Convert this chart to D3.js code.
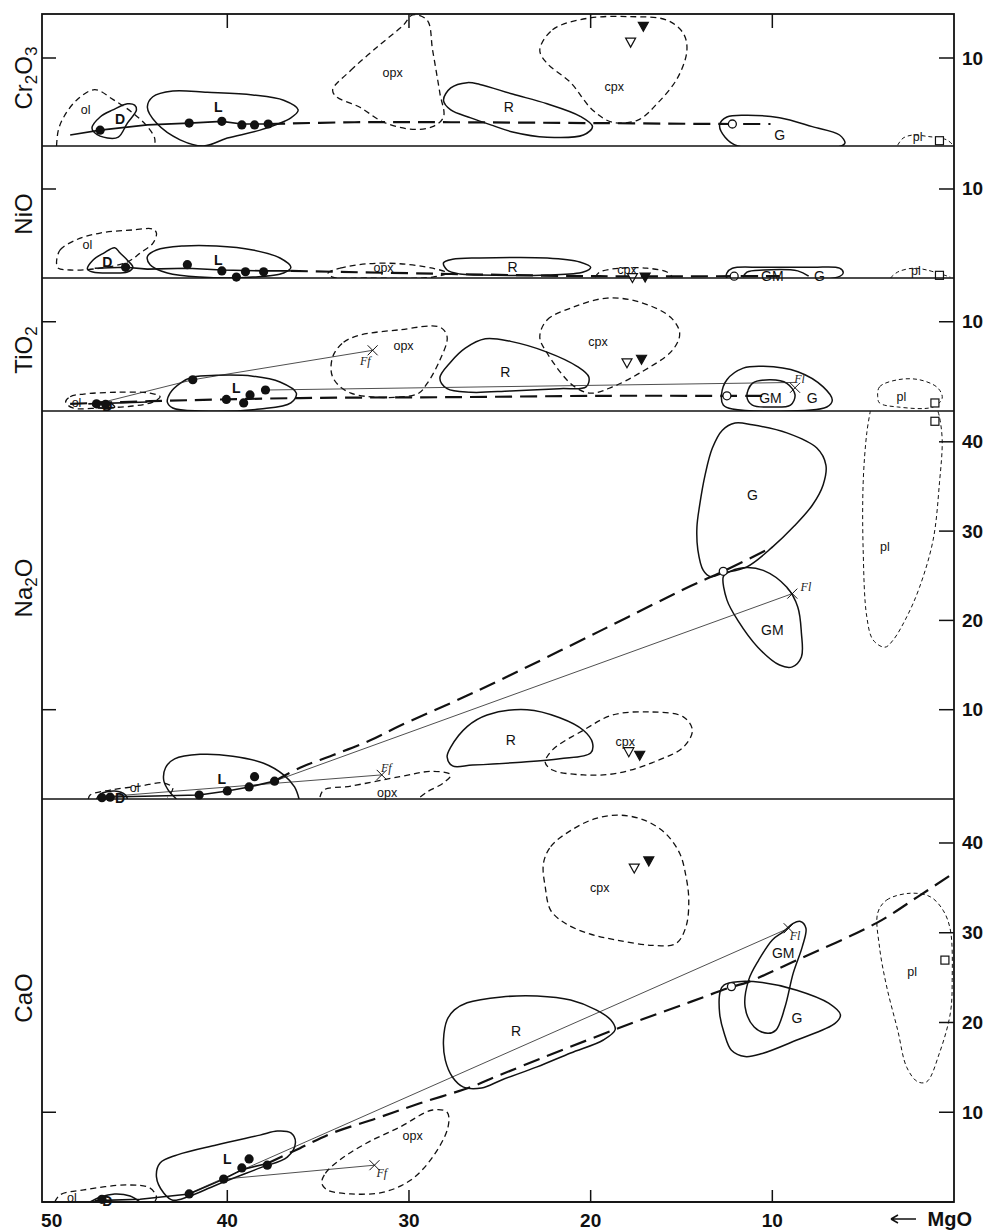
<!DOCTYPE html>
<html><head><meta charset="utf-8">
<script src="https://cdn.jsdelivr.net/npm/d3@7"></script>
<style>body{margin:0;background:#fff}svg{display:block}</style>
</head><body>
<svg id="c" width="994" height="1232"></svg>
<script>
// ---------- axis data ----------
const mgoTicks = [50, 40, 30, 20, 10];
const panelNames = ["Cr2O3", "NiO", "TiO2", "Na2O", "CaO"];
const panelMax = [15.0, 14.83, 14.9, 43.45, 44.9];
const rightTicks = [[10], [10], [10], [10, 20, 30, 40], [10, 20, 30, 40]];
const leftTicks = [[10], [10], [10], [10], [10]];

// ---------- Cr2O3 ----------
const crFields = [
  {n:"ol", open:true, lab:[47.8,4.1], pts:[[49.4,0],[49.3,1.8],[49.0,3.3],[48.3,5.2],[47.3,6.4],[46.3,5.3],[45.2,3.75],[44.4,2.2],[44.0,0.9],[44.0,0]]},
  {n:"D", lab:[45.9,3.1], pts:[[47.45,2.05],[47.0,3.3],[46.3,4.1],[45.5,4.8],[45.1,4.65],[45.0,4.1],[45.5,2.6],[46.0,1.0],[46.6,0.9],[47.3,1.5]]},
  {n:"L", lab:[40.5,4.4], pts:[[44.4,4.4],[44.1,5.6],[43.0,6.25],[41.1,6.1],[38.6,5.8],[36.9,5.2],[36.1,4.1],[36.5,3.2],[38.2,1.8],[40.0,0.9],[41.3,0.0],[42.6,0.7],[43.9,2.6]]},
  {n:"opx", lab:[30.9,8.3], pts:[[34.2,6.4],[33.2,8.6],[31.75,11.25],[30.3,13.75],[29.8,14.9],[29.0,14.3],[28.7,10.9],[28.3,6.0],[28.1,3.3],[28.7,2.2],[29.8,1.9],[31.4,2.7],[32.7,4.4],[34.0,5.6]]},
  {n:"R", lab:[24.5,4.4], pts:[[28.1,5.2],[27.7,6.6],[26.8,7.2],[26.1,7.0],[24.3,5.9],[22.4,4.8],[20.6,3.4],[19.9,2.2],[20.4,1.25],[22.4,1.0],[24.3,1.6],[25.5,2.4],[26.6,3.2],[27.7,4.1]]},
  {n:"cpx", lab:[18.7,6.7], pts:[[22.8,10.9],[22.1,13.2],[20.2,14.5],[17.8,14.7],[15.8,14.3],[14.9,12.8],[14.7,10.9],[15.2,7.8],[16.3,4.9],[17.4,2.95],[18.8,2.7],[19.9,4.1],[21.1,7.2],[22.4,9.4]]},
  {n:"G", lab:[9.6,1.25], pts:[[12.9,2.4],[12.5,3.3],[11.4,3.5],[9.6,3.2],[7.8,2.2],[6.3,1.25],[6.0,0.35],[6.2,0],[11.9,0],[12.6,1.0]]},
  {n:"pl", open:true, lab:[2.0,1.0], pts:[[3.1,0.1],[2.8,0.9],[2.25,1.25],[1.5,1.1],[0.4,0.7],[0.05,0.1]]}
];
const crMarks = [["dot",47.0,1.8],["dot",42.1,2.6],["dot",40.3,2.8],["dot",39.2,2.4],["dot",38.5,2.4],["dot",37.75,2.5],
  ["circle",12.2,2.5],["triOpen",17.8,11.8],["triFilled",17.1,13.6],["square",0.8,0.6]];
const crSeq = [[48.65,1.25],[47.0,1.8],[44.4,2.4],[42.1,2.6],[40.3,2.8],[39.2,2.5],[37.75,2.5]];
const crTrend = [[37.75,2.5],[33,2.7],[27.7,2.7],[19.5,2.6],[12.2,2.5],[10.1,2.5]];
const crThin = [];
const crNotes = [];

// ---------- NiO ----------
const niFields = [
  {n:"ol", lab:[47.7,3.7], pts:[[49.4,1.7],[49.2,3.15],[48.3,4.3],[47.0,5.05],[45.2,5.4],[44.1,5.5],[43.9,5.05],[44.1,3.9],[44.8,2.8],[45.5,1.8],[47.0,1.1],[48.65,0.9],[49.3,1.1]]},
  {n:"D", lab:[46.6,1.8], pts:[[47.7,1.0],[47.4,2.0],[46.8,2.8],[46.2,3.4],[45.9,2.8],[45.5,2.0],[45.2,1.2],[45.5,0.67],[46.45,0.56],[47.4,0.67]]},
  {n:"L", lab:[40.5,2.0], pts:[[44.4,2.4],[43.9,3.15],[42.4,3.6],[40.6,3.6],[38.6,3.15],[37.1,2.25],[36.5,1.2],[36.9,0.56],[38.6,0.1],[41.5,0.1],[43.3,0.56],[44.25,1.5]]},
  {n:"opx", lab:[31.4,1.1], pts:[[34.45,0.56],[33.8,1.1],[32.3,1.6],[30.5,1.6],[28.7,1.1],[27.9,0.56],[28.7,0.1],[32.3,0],[34.2,0.1]]},
  {n:"R", lab:[24.3,1.2], pts:[[28.1,1.7],[27.6,2.1],[26.1,2.25],[22.4,2.25],[20.6,1.8],[20.0,1.2],[20.4,0.67],[22.4,0.34],[26.1,0.34],[27.2,0.45],[27.9,0.9]]},
  {n:"cpx", open:true, lab:[18.0,0.9], pts:[[19.75,0.1],[19.5,0.67],[18.4,1.1],[16.9,1.1],[15.8,0.67],[15.5,0.1]]},
  {n:"G", lab:[7.4,0.25], pts:[[12.5,0.56],[12.2,1.1],[10.5,1.2],[7.8,1.2],[6.3,1.1],[6.1,0.56],[6.4,0.1],[12.5,0]]},
  {n:"GM", open:true, lab:[10.0,0.25], pts:[[11.6,0.1],[11.4,0.67],[10.5,0.9],[8.6,0.8],[8.0,0.2]]},
  {n:"pl", open:true, lab:[2.1,0.8], pts:[[3.5,0],[3.1,0.67],[2.25,1.1],[1.5,0.9],[0.2,0.1]]}
];
const niMarks = [["dot",45.6,1.2],["dot",42.2,1.5],["dot",40.3,0.8],["dot",39.5,0.1],["dot",39.0,0.7],["dot",38.0,0.7],
  ["circle",12.1,0.2],["triOpen",17.7,0.05],["triFilled",17.0,0.1],["square",0.8,0.3]];
const niSeq = [[47.3,1.1],[45.6,1.2],[44.4,1.0],[42.2,1.1],[40.3,0.9],[38.0,0.8],[36.5,0.8]];
const niTrend = [[36.5,0.8],[27.7,0.45],[19.5,0.2],[12.1,0.2],[9.6,0.2]];
const niThin = [];
const niNotes = [];

// ---------- TiO2 ----------
const tiFields = [
  {n:"ol", lab:[48.3,0.9], pts:[[48.9,1.0],[48.65,1.6],[47.9,1.9],[46.1,2.1],[44.25,2.0],[43.7,1.6],[44.1,1.0],[45.2,0.56],[47.0,0.34],[48.5,0.34]]},
  {n:"D", lab:[46.6,0.55], pts:[[47.4,0.67],[47.0,1.0],[46.45,0.9],[46.2,0.45],[47.0,0.34]]},
  {n:"L", lab:[39.5,2.6], pts:[[43.3,1.0],[43.15,2.0],[42.6,3.1],[41.9,3.8],[40.6,4.0],[38.6,3.9],[37.1,3.25],[36.2,2.0],[36.5,0.9],[38.2,0.22],[41.5,0],[43.0,0.34]]},
  {n:"opx", lab:[30.3,7.3], pts:[[34.2,6.05],[33.6,7.7],[32.7,8.5],[30.5,9.1],[28.3,9.4],[27.9,8.3],[28.3,5.7],[29.0,3.1],[29.55,1.9],[33.2,2.0],[34.2,3.8]]},
  {n:"R", lab:[24.7,4.35], pts:[[28.3,3.7],[27.7,5.5],[26.9,7.05],[25.8,8.1],[24.4,7.8],[22.4,6.6],[20.75,5.0],[20.1,3.8],[20.25,2.7],[21.7,2.5],[24.4,2.25],[26.6,2.1],[27.9,2.5]]},
  {n:"cpx", lab:[19.6,7.7], pts:[[22.8,8.3],[22.4,10.2],[21.0,11.6],[19.1,12.65],[17.3,12.2],[15.6,10.5],[15.1,8.7],[15.5,6.8],[17.3,4.25],[18.8,2.7],[20.0,2.0],[21.0,2.9],[22.4,6.5]]},
  {n:"G", lab:[7.8,1.45], pts:[[12.8,1.8],[12.5,3.5],[11.6,4.8],[10.5,5.0],[8.6,4.4],[7.2,2.7],[6.7,1.2],[7.0,0.45],[12.2,0.22],[12.7,0.67]]},
  {n:"GM", lab:[10.1,1.45], pts:[[11.4,1.6],[11.1,3.1],[10.1,3.5],[9.2,3.1],[8.75,1.8],[9.0,0.67],[10.1,0.45],[11.1,0.67]]},
  {n:"pl", lab:[2.9,1.6], pts:[[4.2,1.6],[4.1,2.7],[3.1,3.5],[1.9,3.5],[0.9,2.6],[0.65,1.45],[1.15,0.45],[3.1,0.45],[4.1,0.9]]}
];
const tiMarks = [["dot",47.2,0.8],["dot",46.7,0.75],["dot",41.9,3.5],["dot",40.05,1.3],["dot",39.1,0.9],["dot",38.75,1.8],["dot",37.9,2.35],
  ["circle",12.5,1.7],["triOpen",18.0,5.4],["triFilled",17.2,5.8],["square",1.05,0.9],["cross",32.0,6.8],["cross",8.75,2.6]];
const tiSeq = [[47.65,0.8],[44.4,1.0]];
const tiTrend = [[48.65,0.8],[44.25,1.1],[36.0,1.45],[27.7,1.55],[19.5,1.7],[12.5,1.7],[10.1,1.7]];
const tiThin = [[[47.2,0.8],[41.9,3.5],[32.0,6.8]], [[37.9,2.35],[8.75,3.2]]];
const tiNotes = [["Ff",32.4,5.6],["Fl",8.5,3.6]];

// ---------- Na2O ----------
const naFields = [
  {n:"ol", open:true, lab:[45.1,1.2], pts:[[47.65,0],[47.55,0.45],[46.45,1.0],[44.8,1.45],[43.5,1.8],[43.0,1.2],[43.3,0.2]]},
  {n:"D", open:true, lab:[45.9,0.15], pts:[[47.2,0],[47.0,0.55],[46.2,0.9],[45.6,0.45],[45.5,0]]},
  {n:"L", open:true, lab:[40.3,2.25], pts:[[42.8,0],[43.25,1.0],[43.5,2.1],[43.4,3.5],[42.9,4.5],[41.5,5.0],[39.7,4.8],[38.0,4.0],[36.9,2.7],[36.3,1.35],[36.05,0]]},
  {n:"opx", open:true, lab:[31.2,0.7], pts:[[34.9,0.2],[34.7,1.0],[33.2,1.45],[30.5,2.5],[28.7,3.1],[27.7,2.7],[28.1,1.8],[29.0,0.8],[29.4,0.2]]},
  {n:"R", lab:[24.4,6.6], pts:[[27.9,4.7],[27.7,5.8],[26.8,8.1],[25.7,9.4],[23.5,10.0],[21.7,9.1],[20.4,7.7],[19.9,6.3],[20.0,5.15],[21.7,4.5],[24.05,4.1],[26.5,3.8],[27.6,3.7]]},
  {n:"cpx", lab:[18.1,6.4], pts:[[22.5,4.1],[22.1,5.5],[20.4,7.7],[18.8,9.4],[16.7,9.75],[14.9,9.2],[14.4,7.7],[14.9,5.8],[16.2,4.4],[18.5,2.9],[20.4,2.7],[22.1,3.25]]},
  {n:"G", lab:[11.1,34.0], pts:[[14.15,30.45],[14.0,32.9],[13.7,36.3],[13.3,39.3],[12.75,41.3],[12.05,42.1],[11.1,41.9],[9.2,41.0],[7.55,39.3],[7.05,37.4],[7.2,35.2],[7.8,32.9],[8.85,30.45],[10.0,28.2],[11.4,26.0],[12.7,25.3],[13.4,24.9],[13.8,25.6],[14.1,27.9]]},
  {n:"GM", lab:[10.0,18.9], pts:[[12.7,24.9],[12.5,22.3],[11.9,20.0],[10.8,17.0],[9.6,15.0],[8.9,14.8],[8.4,15.9],[8.4,18.6],[8.6,21.5],[9.2,23.7],[10.5,25.6],[11.6,25.9],[12.5,25.3]]},
  {n:"pl", open:true, lab:[3.8,28.2], pts:[[4.6,43.5],[4.8,41.0],[5.0,35.4],[5.0,27.9],[4.8,20.4],[4.45,17.8],[3.8,17.0],[3.35,17.8],[2.6,20.4],[1.9,23.7],[1.15,29.0],[0.8,35.4],[0.65,40.2],[0.8,42.8],[0.9,43.5]]}
];
const naMarks = [["dot",46.9,0.15],["dot",46.45,0.2],["dot",41.55,0.45],["dot",40.0,0.9],["dot",38.8,1.35],["dot",38.5,2.5],["dot",37.4,2.0],
  ["circle",12.7,25.5],["triOpen",17.9,5.3],["triFilled",17.3,4.9],["square",1.05,42.3],["cross",31.5,2.7],["cross",8.9,23.0]];
const naSeq = [[47.0,0.2],[41.55,0.45],[40.0,0.9],[38.8,1.35],[37.4,2.0]];
const naTrend = [[37.4,2.0],[36.0,3.5],[34.2,4.9],[32.1,6.6],[30.5,8.2],[27.7,10.75],[25.0,13.3],[19.5,18.8],[14.5,23.85],[12.7,25.5],[10.0,28.2]];
const naThin = [[[37.4,2.0],[8.9,23.0]], [[46.45,0.3],[31.5,2.7]]];
const naNotes = [["Ff",31.25,3.5],["Fl",8.15,23.7]];

// ---------- CaO ----------
const caFields = [
  {n:"ol", open:true, lab:[48.55,0.5], pts:[[49.5,0],[49.2,0.8],[47.9,1.35],[45.5,1.9],[44.25,1.55],[43.9,0.55],[44.0,0]]},
  {n:"D", open:true, lab:[46.6,0.1], pts:[[47.55,0],[47.0,0.55],[46.2,0.9],[45.35,0.67],[44.8,0]]},
  {n:"L", lab:[40.0,4.8], pts:[[43.9,2.8],[43.7,4.35],[42.75,5.25],[40.6,6.35],[38.2,7.45],[37.25,7.9],[36.5,7.7],[36.25,6.6],[36.7,5.0],[38.2,3.8],[40.6,1.9],[42.2,0.55],[43.0,0.2],[43.5,1.0]]},
  {n:"opx", lab:[29.8,7.35], pts:[[34.8,2.1],[34.6,3.2],[33.8,4.7],[32.3,6.6],[30.5,8.35],[28.7,10.25],[27.9,10.0],[27.85,8.35],[28.7,5.0],[29.9,2.45],[31.4,1.1],[33.2,0.9],[34.5,1.35]]},
  {n:"R", lab:[24.1,19.0], pts:[[28.1,18.05],[27.9,20.3],[27.5,21.4],[26.8,22.2],[24.9,22.85],[22.95,22.95],[21.1,22.5],[19.7,21.4],[18.9,20.3],[18.65,19.2],[19.3,18.05],[21.1,16.6],[22.95,15.05],[24.9,13.6],[26.0,12.7],[27.0,12.8],[27.6,13.9],[28.0,15.8]]},
  {n:"cpx", lab:[19.5,35.0], pts:[[22.6,37.7],[22.2,39.6],[21.05,41.45],[19.7,42.75],[18.4,43.1],[17.05,42.55],[15.9,41.1],[15.1,38.85],[14.75,36.25],[14.6,33.65],[14.75,30.7],[15.3,28.8],[16.65,28.6],[18.6,29.2],[20.1,29.9],[21.4,31.05],[22.2,32.5],[22.5,35.1]]},
  {n:"G", lab:[8.65,20.5], pts:[[12.85,23.6],[12.65,24.2],[11.9,24.55],[10.55,24.45],[8.65,23.6],[6.9,22.15],[6.25,20.85],[6.55,19.9],[8.65,18.05],[10.55,16.55],[11.5,16.2],[12.25,16.9],[12.65,18.8],[12.9,21.0]]},
  {n:"GM", lab:[9.4,27.7], pts:[[9.4,30.1],[8.85,31.05],[8.45,31.25],[8.15,30.5],[8.35,28.45],[8.85,25.5],[9.3,21.75],[9.8,19.15],[10.25,18.8],[11.0,19.5],[11.5,21.75],[11.3,24.75],[10.75,26.95],[10.0,29.2]]},
  {n:"pl", lab:[2.3,25.6], pts:[[4.2,32.2],[3.7,33.65],[2.4,34.4],[1.3,34.0],[0.6,32.5],[0.2,30.3],[0.1,24.7],[0.2,21.05],[0.8,16.6],[1.5,13.4],[2.0,13.4],[2.6,15.0],[3.1,19.15],[3.7,23.95],[4.1,28.4]]}
];
const caMarks = [["dot",42.1,0.9],["dot",40.2,2.55],["dot",39.2,3.8],["dot",38.8,4.8],["dot",37.8,4.1],["dot",46.9,0.3],
  ["circle",12.25,24.0],["triOpen",17.6,37.2],["triFilled",16.8,38.0],["square",0.5,26.95],["cross",31.9,4.1],["cross",9.1,30.5]];
const caSeq = [[47.3,0.15],[44.8,0.3],[42.1,0.9],[40.2,2.55],[39.2,3.6],[37.8,4.3]];
const caTrend = [[37.8,4.3],[36.0,6.0],[34.2,7.7],[31.75,9.35],[29.4,11.0],[26.6,12.8],[25.0,14.15],[18.75,19.15],[14.5,22.3],[12.25,23.95],[11.35,24.5],[8.65,26.95],[4.25,31.1],[2.0,34.0],[0.2,36.4]];
const caThin = [[[42.05,1.0],[9.1,30.5]], [[40.2,2.55],[31.9,4.1]]];
const caNotes = [["Ff",31.5,3.2],["Fl",8.75,29.6]];

// ---------- build ----------
const panelData = [
  {fields:crFields, marks:crMarks, seq:crSeq, trend:crTrend, thin:crThin, notes:crNotes},
  {fields:niFields, marks:niMarks, seq:niSeq, trend:niTrend, thin:niThin, notes:niNotes},
  {fields:tiFields, marks:tiMarks, seq:tiSeq, trend:tiTrend, thin:tiThin, notes:tiNotes},
  {fields:naFields, marks:naMarks, seq:naSeq, trend:naTrend, thin:naThin, notes:naNotes},
  {fields:caFields, marks:caMarks, seq:caSeq, trend:caTrend, thin:caThin, notes:caNotes}
];
const dashedNames = ["ol", "opx", "cpx", "pl"];
const boldNames = ["L", "D"];

const X0 = 42, X1 = 954;
const tops = [14, 146, 278, 411, 799];
const bots = [146, 278, 411, 799, 1202];
const labelY = [78, 214, 350, 588, 998];
const FONT = "'Liberation Sans', Arial, Helvetica, sans-serif";

const svg = d3.select("#c");
svg.append("rect").attr("width", 994).attr("height", 1232).attr("fill", "#fff");
const x = d3.scaleLinear().domain([50.2, 0]).range([X0, X1]);
const defs = svg.append("defs");

panelData.forEach((P, i) => {
  const y = d3.scaleLinear().domain([0, panelMax[i]]).range([bots[i], tops[i]]);
  defs.append("clipPath").attr("id", "clip" + i).append("rect")
    .attr("x", X0).attr("y", tops[i]).attr("width", X1 - X0).attr("height", bots[i] - tops[i]);
  const g = svg.append("g");
  const gc = g.append("g").attr("clip-path", `url(#clip${i})`);
  const lineOpen = d3.line().x(d => x(d[0])).y(d => y(d[1])).curve(d3.curveCatmullRom.alpha(0.5));
  const lineClosed = d3.line().x(d => x(d[0])).y(d => y(d[1])).curve(d3.curveCatmullRomClosed.alpha(0.5));
  const lineStraight = d3.line().x(d => x(d[0])).y(d => y(d[1]));

  P.fields.forEach(f => {
    const dashed = dashedNames.includes(f.n);
    const isPl = f.n === "pl";
    gc.append("path").attr("d", (f.open ? lineOpen : lineClosed)(f.pts))
      .attr("fill", "none").attr("stroke", "#111")
      .attr("stroke-width", dashed ? (isPl ? 1.0 : 1.3) : 1.5)
      .attr("stroke-dasharray", dashed ? (isPl ? "4,3" : "6,4") : null)
      .attr("stroke-linejoin", "round");
  });
  P.thin.forEach(t => {
    gc.append("path").attr("d", lineStraight(t)).attr("fill", "none")
      .attr("stroke", "#222").attr("stroke-width", 0.8);
  });
  gc.append("path").attr("d", lineStraight(P.seq)).attr("fill", "none")
    .attr("stroke", "#111").attr("stroke-width", 1.6);
  gc.append("path").attr("d", lineOpen(P.trend)).attr("fill", "none")
    .attr("stroke", "#111").attr("stroke-width", 2.2).attr("stroke-dasharray", "17,8");

  P.marks.forEach(m => {
    const cx = x(m[1]), cy = y(m[2]);
    if (m[0] === "dot") {
      g.append("circle").attr("cx", cx).attr("cy", cy).attr("r", 4.6).attr("fill", "#111");
    } else if (m[0] === "circle") {
      g.append("circle").attr("cx", cx).attr("cy", cy).attr("r", 4).attr("fill", "#fff")
        .attr("stroke", "#111").attr("stroke-width", 1.3);
    } else if (m[0] === "triOpen" || m[0] === "triFilled") {
      g.append("path").attr("d", `M${cx-5},${cy-4}L${cx+5},${cy-4}L${cx},${cy+5}Z`)
        .attr("fill", m[0] === "triFilled" ? "#111" : "#fff").attr("stroke", "#111").attr("stroke-width", 1.2);
    } else if (m[0] === "square") {
      g.append("rect").attr("x", cx - 4).attr("y", cy - 4).attr("width", 8).attr("height", 8)
        .attr("fill", "#fff").attr("stroke", "#111").attr("stroke-width", 1.2);
    } else if (m[0] === "cross") {
      g.append("path").attr("d", `M${cx-5},${cy-5}L${cx+5},${cy+5}M${cx+5},${cy-5}L${cx-5},${cy+5}`)
        .attr("stroke", "#111").attr("stroke-width", 1);
    }
  });
  P.notes.forEach(nt => {
    g.append("text").attr("x", x(nt[1])).attr("y", y(nt[2])).attr("text-anchor", "middle")
      .attr("dominant-baseline", "central").attr("font-family", "'Liberation Serif', serif")
      .attr("font-style", "italic").attr("font-size", 12).attr("fill", "#222").text(nt[0]);
  });
  P.fields.forEach(f => {
    const bold = boldNames.includes(f.n);
    g.append("text").attr("x", x(f.lab[0])).attr("y", y(f.lab[1]))
      .attr("text-anchor", "middle").attr("dominant-baseline", "central")
      .attr("font-family", FONT).attr("font-size", bold ? 14 : (f.n.length > 1 && f.n !== "GM" ? 12.5 : 14))
      .attr("font-weight", bold ? "bold" : "normal").attr("fill", "#111").text(f.n);
  });

  svg.append("line").attr("x1", X0).attr("x2", X1).attr("y1", bots[i]).attr("y2", bots[i])
    .attr("stroke", "#111").attr("stroke-width", 1.6);
  rightTicks[i].forEach(v => {
    svg.append("line").attr("x1", X1 - 15).attr("x2", X1).attr("y1", y(v)).attr("y2", y(v))
      .attr("stroke", "#111").attr("stroke-width", 1.5);
    svg.append("text").attr("x", X1 + 8).attr("y", y(v)).attr("dominant-baseline", "central")
      .attr("font-family", FONT).attr("font-weight", "bold").attr("font-size", 19).attr("fill", "#111").text(v);
  });
  leftTicks[i].forEach(v => {
    svg.append("line").attr("x1", X0).attr("x2", X0 + 14).attr("y1", y(v)).attr("y2", y(v))
      .attr("stroke", "#111").attr("stroke-width", 1.5);
  });
  const name = panelNames[i];
  const t = svg.append("text").attr("transform", `translate(32,${labelY[i]}) rotate(-90)`)
    .attr("text-anchor", "middle").attr("font-family", FONT).attr("font-size", 24).attr("fill", "#111");
  const parts = name.match(/[A-Za-z]+|\d+/g);
  parts.forEach(p => {
    if (/\d/.test(p)) {
      t.append("tspan").attr("font-size", 17).attr("dy", 5).text(p);
    } else {
      const ts = t.append("tspan").text(p);
      if (t.selectAll("tspan").size() > 1) ts.attr("dy", -5);
    }
  });
});

svg.append("rect").attr("x", X0).attr("y", tops[0]).attr("width", X1 - X0).attr("height", bots[4] - tops[0])
  .attr("fill", "none").attr("stroke", "#111").attr("stroke-width", 1.8);

mgoTicks.filter(v => v < 50).forEach(v => {
  svg.append("line").attr("x1", x(v)).attr("x2", x(v)).attr("y1", tops[0]).attr("y2", tops[0] + 14)
    .attr("stroke", "#111").attr("stroke-width", 1.5);
  svg.append("line").attr("x1", x(v)).attr("x2", x(v)).attr("y1", bots[4]).attr("y2", bots[4] - 12)
    .attr("stroke", "#111").attr("stroke-width", 1.5);
});
mgoTicks.forEach(v => {
  svg.append("text").attr("x", v === 50 ? x(v) + 6 : x(v)).attr("y", 1220).attr("text-anchor", "middle")
    .attr("dominant-baseline", "central").attr("font-family", FONT).attr("font-weight", "bold")
    .attr("font-size", 19).attr("fill", "#111").text(v);
});
// axis title with drawn arrow
svg.append("text").attr("x", 972).attr("y", 1226).attr("text-anchor", "end")
  .attr("font-family", FONT).attr("font-weight", "bold").attr("font-size", 20).attr("fill", "#111").text("MgO");
svg.append("path").attr("d", "M891,1219L916,1219M891,1219L898,1215M891,1219L898,1223")
  .attr("fill", "none").attr("stroke", "#111").attr("stroke-width", 1.5);
</script>
</body></html>
